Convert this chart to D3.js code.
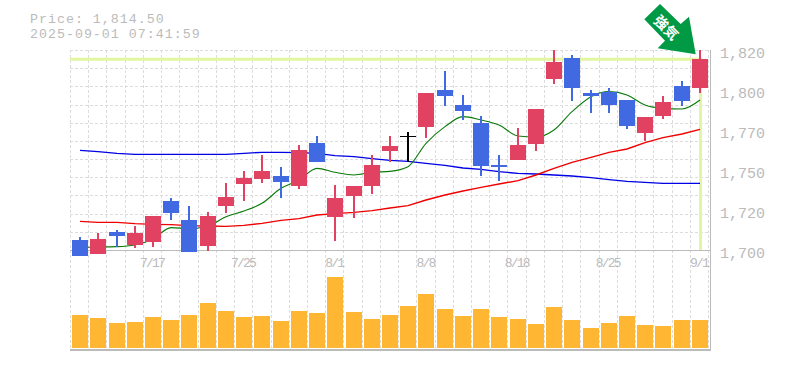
<!DOCTYPE html>
<html><head><meta charset="utf-8">
<script src="https://cdn.jsdelivr.net/npm/d3@7/dist/d3.min.js"></script>
<style>html,body{margin:0;padding:0;background:#fff}svg{display:block}</style>
</head><body><div id="c"></div>
<script>
const dates=["7/11","7/14","7/15","7/16","7/17","7/18","7/22","7/23","7/24","7/25","7/28","7/29","7/30","7/31","8/1","8/4","8/5","8/6","8/7","8/8","8/12","8/13","8/14","8/15","8/18","8/19","8/20","8/21","8/22","8/25","8/26","8/27","8/28","8/29","9/1"];
const dateTicks=["7/17","7/25","8/1","8/8","8/18","8/25","9/1"];
const open=[1706,1697.6,1710.8,1703,1704.8,1729.4,1718,1702.4,1726.4,1739.6,1742.6,1744.4,1738.4,1764.2,1719.8,1732.4,1738.4,1759.4,1768.6,1773.8,1796,1787,1776.2,1751,1754,1763.6,1802.6,1815.2,1794.2,1794.8,1790,1770.2,1780.4,1798.4,1797.2];
const high=[1707.8,1710.2,1712,1714.4,1720.4,1731.2,1726.4,1722.8,1740.2,1747.4,1757,1749.8,1763,1768.4,1739,1738.4,1757,1768.4,1770.8,1794.2,1807.4,1793,1780.4,1757,1773.2,1784.6,1820,1817,1796,1797.2,1790,1779.8,1792.4,1801.4,1820];
const low=[1696.4,1697.6,1702,1701.2,1701.8,1718,1698.8,1699.4,1722.2,1729.4,1740.2,1731.2,1736.6,1752.8,1705.4,1719.2,1733.6,1752.8,1752.8,1767.2,1786.4,1778,1744.4,1741.4,1754,1759.4,1799.6,1789.4,1782.2,1782.2,1772.6,1765.4,1778.6,1786.4,1794.2];
const close=[1696.4,1706.6,1708.4,1710.2,1720.4,1722.2,1698.8,1720.4,1731.8,1743.2,1747.4,1740.8,1760,1752.8,1731.2,1738.4,1751,1762.4,1768.6,1794.2,1792.4,1783.4,1750.4,1749.8,1763,1784.6,1812.8,1797.2,1792.4,1787,1774.4,1779.8,1788.8,1789.4,1814.5];
const maShort=[1701.5,1701.8,1702,1703,1706.6,1713.4,1712.8,1714.4,1720,1723.4,1728,1737,1742,1749,1746.6,1745,1746.6,1747.2,1750,1764,1774,1780,1778,1775,1768.4,1767.8,1772,1783,1792,1795,1793,1787,1785,1784.6,1790];
const maMid=[1717.2,1716.6,1716.6,1715.8,1715.4,1715.2,1714.6,1714.4,1714.2,1714.8,1716,1717.8,1718.8,1721,1721.8,1722.6,1723.6,1725.2,1726.6,1730,1733,1735.4,1737.6,1739.6,1741.6,1745,1749,1752.6,1755.6,1758.6,1760.6,1764.4,1767.4,1769.6,1772.4];
const maLong=[1759.8,1759,1758,1757.4,1757.4,1757.4,1757.4,1757.4,1757.4,1758,1758.6,1758.6,1758.4,1758,1756.6,1756,1754.8,1753.8,1753.2,1752,1750.8,1749.2,1748.4,1747,1746,1745.6,1745,1744.4,1743.4,1742.2,1741.2,1740.6,1740,1740,1740];
const volume=[33,30,25,26,31,28,33,45,37,31,32,27,37,35,71,36,29,33,42,54,39,32,39,31,29,24,41,28,20,25,32,23,22,28,28];
const priceTicks=[1700,1724,1748,1772,1796,1820];
const priceLabels=["1,700","1,720","1,750","1,770","1,800","1,820"];
const lastPrice=1814.5;
const titleLines=["Price: 1,814.50","2025-09-01 07:41:59"];
const arrowLabel="強気";

const W=785,H=370,GRAY="#bbb",GRID="#dcdcdc",UP="#e24261",DOWN="#4169e1",MONO="'Liberation Mono',monospace";
const svg=d3.select("#c").append("svg").attr("width",W).attr("height",H);
const x=d3.scaleBand().domain(d3.range(dates.length)).range([71,709]);
const cx=i=>Math.round(x(i)+x.step()/2);
const y=d3.scaleLinear().domain([1700,1820]).range([250,50]);
const yv=d3.scaleLinear().domain([0,98]).range([348,250]);

// grid
const g=svg.append("g").attr("stroke",GRID).attr("stroke-dasharray","3 2").attr("shape-rendering","crispEdges");
g.selectAll("line.v").data(d3.range(dates.length+1)).join("line")
 .attr("x1",i=>Math.round(71+i*x.step())-.5).attr("x2",i=>Math.round(71+i*x.step())-.5).attr("y1",50).attr("y2",350);
g.selectAll("line.h").data(d3.range(11)).join("line")
 .attr("x1",70).attr("x2",710).attr("y1",i=>Math.round(50+i*200/11)+.5).attr("y2",i=>Math.round(50+i*200/11)+.5);

// frame
const fr=svg.append("g").attr("stroke",GRAY).attr("shape-rendering","crispEdges");
fr.append("line").attr("x1",70).attr("x2",711).attr("y1",250.5).attr("y2",250.5);
fr.append("line").attr("x1",70).attr("x2",711).attr("y1",350).attr("y2",350).attr("stroke-width",2);
fr.append("line").attr("x1",710.5).attr("x2",710.5).attr("y1",50).attr("y2",351);

// last price cross-hair
const last=dates.length-1;
svg.append("line").attr("x1",70).attr("x2",cx(last)+2).attr("y1",y(lastPrice)).attr("y2",y(lastPrice)).attr("stroke","#e2f5a0").attr("stroke-width",3);
svg.append("line").attr("x1",cx(last)+.5).attr("x2",cx(last)+.5).attr("y1",y(lastPrice)).attr("y2",250).attr("stroke","#e2f5a0").attr("stroke-width",3);

// moving averages
const line=d3.line().x((d,i)=>cx(i)).y(d=>y(d));
svg.append("path").attr("d",line(maLong)).attr("fill","none").attr("stroke","#0000e6").attr("stroke-width",1.4);
svg.append("path").attr("d",line(maMid)).attr("fill","none").attr("stroke","#f00000").attr("stroke-width",1.4);
svg.append("path").attr("d",line.curve(d3.curveMonotoneX)(maShort)).attr("fill","none").attr("stroke","#0a7a0a").attr("stroke-width",1.1);

// candles
const col=i=>close[i]>open[i]?UP:close[i]<open[i]?DOWN:"#000";
const c=svg.append("g").attr("shape-rendering","crispEdges");
c.selectAll("line").data(d3.range(dates.length)).join("line")
 .attr("x1",cx).attr("x2",cx).attr("y1",i=>y(high[i])).attr("y2",i=>y(low[i])).attr("stroke",col).attr("stroke-width",1.5);
c.selectAll("rect").data(d3.range(dates.length)).join("rect")
 .attr("x",i=>cx(i)-8).attr("width",16)
 .attr("y",i=>Math.round(y(Math.max(open[i],close[i]))))
 .attr("height",i=>Math.max(1,Math.round(Math.abs(y(open[i])-y(close[i])))))
 .attr("fill",col);

// volume
svg.append("g").selectAll("rect").data(volume).join("rect")
 .attr("x",(d,i)=>cx(i)-8).attr("width",16).attr("y",d=>yv(d)).attr("height",d=>yv(0)-yv(d)).attr("fill","#ffb733");

// axes
const ax=svg.append("g").attr("transform","translate(710,0)")
 .call(d3.axisRight(y).tickValues(priceTicks).tickFormat((d,i)=>priceLabels[i]).tickSize(0).tickPadding(10));
ax.select(".domain").remove();
ax.selectAll("text").attr("font-family",MONO).attr("font-size",15).attr("fill",GRAY).attr("dy","0.48em");
const xTick=d3.scalePoint().domain(dates).range([cx(0),cx(last)]);
const bx=svg.append("g").attr("transform","translate(-1.5,250)")
 .call(d3.axisBottom(xTick).tickValues(dateTicks).tickSize(0).tickPadding(8));
bx.select(".domain").remove();
bx.selectAll("text").attr("font-family",MONO).attr("font-size",13).attr("letter-spacing",-1.8).attr("fill",GRAY);

// title
svg.append("g").selectAll("text").data(titleLines).join("text")
 .attr("x",30).attr("y",(d,i)=>23+i*15).attr("font-family",MONO).attr("font-size",13.3).attr("letter-spacing",1).attr("fill",GRAY).text(d=>d);

// arrow
svg.append("path").attr("d","M660,4L644.3,19.3L665,40.7L657.7,48.3L695.7,54.3L689,16.7L680.7,24Z").attr("fill","#009944");
svg.append("text").attr("transform","translate(667,27) rotate(45)").attr("text-anchor","middle").attr("dominant-baseline","central")
 .attr("font-family","'Noto Sans CJK JP'").attr("font-weight",700).attr("font-size",14).attr("fill","#fff").text(arrowLabel);
</script></body></html>
